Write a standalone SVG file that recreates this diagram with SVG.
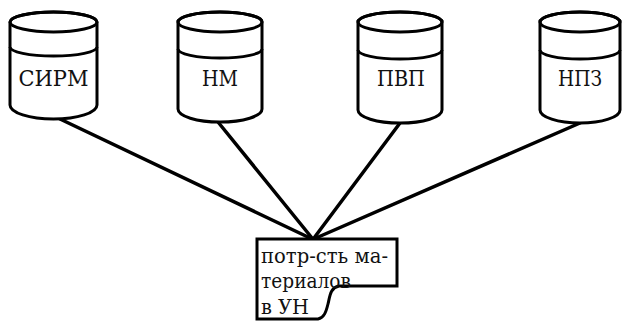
<svg xmlns="http://www.w3.org/2000/svg" width="624" height="321" viewBox="0 0 624 321">
<style>
.cyl{fill:#fff;stroke:#000;stroke-width:3;stroke-linejoin:round}
.arc{fill:none;stroke:#000;stroke-width:3}
.lbl{font-family:"DejaVu Serif","Liberation Serif","Noto Serif",serif;font-size:22px;fill:#111;text-anchor:middle}
.doc{fill:#fff;stroke:#000;stroke-width:3}
.dt{font-family:"DejaVu Serif","Liberation Serif","Noto Serif",serif;font-size:20px;fill:#111}
.conn line{stroke:#000;stroke-width:3.5;stroke-linecap:round}
</style>
<rect width="624" height="321" fill="#fff"/>
<g class="conn" id="connectors">
<line x1="60" y1="119" x2="310" y2="238"/>
<line x1="218" y1="122" x2="312" y2="238"/>
<line x1="400" y1="123" x2="314" y2="238"/>
<line x1="580" y1="123" x2="316" y2="238"/>
</g>
<g id="sirm">
<path class="cyl" d="M10,22 L10,105 A43.5,14 0 0 0 97,105 L97,22 A43.5,10 0 0 0 10,22 Z"/>
<ellipse class="arc" cx="53.5" cy="22" rx="43.5" ry="10"/>
<path class="arc" d="M10,47 A43.5,9 0 0 0 97,47"/>
<text class="lbl" x="53.5" y="86" textLength="70" lengthAdjust="spacingAndGlyphs">СИРМ</text>
</g>
<g id="nm">
<path class="cyl" d="M178,22 L178,109 A42,13 0 0 0 262,109 L262,22 A42,10 0 0 0 178,22 Z"/>
<ellipse class="arc" cx="220" cy="22" rx="42" ry="10"/>
<path class="arc" d="M178,49 A42,9 0 0 0 262,49"/>
<text class="lbl" x="220" y="86" textLength="36" lengthAdjust="spacingAndGlyphs">НМ</text>
</g>
<g id="pvp">
<path class="cyl" d="M358,22 L358,110 A42,13 0 0 0 442,110 L442,22 A42,10 0 0 0 358,22 Z"/>
<ellipse class="arc" cx="400" cy="22" rx="42" ry="10"/>
<path class="arc" d="M358,50 A42,9 0 0 0 442,50"/>
<text class="lbl" x="401" y="86" textLength="48" lengthAdjust="spacingAndGlyphs">ПВП</text>
</g>
<g id="npz">
<path class="cyl" d="M540,22 L540,110 A40,13 0 0 0 620,110 L620,22 A40,10 0 0 0 540,22 Z"/>
<ellipse class="arc" cx="580" cy="22" rx="40" ry="10"/>
<path class="arc" d="M540,50 A40,9 0 0 0 620,50"/>
<text class="lbl" x="580" y="86" textLength="44" lengthAdjust="spacingAndGlyphs">НПЗ</text>
</g>
<g id="doc">
<path class="doc" d="M257,239 L397,239 L397,286 L339,286 C330,288 330,296 328,304 C326,312 324,318 318,319 L257,319 Z"/>
<text class="dt" x="261" y="263" textLength="127" lengthAdjust="spacingAndGlyphs">потр-сть ма-</text>
<text class="dt" x="261" y="288" textLength="90" lengthAdjust="spacingAndGlyphs">териалов</text>
<text class="dt" x="261" y="314" textLength="48" lengthAdjust="spacingAndGlyphs">в УН</text>
</g>
</svg>
